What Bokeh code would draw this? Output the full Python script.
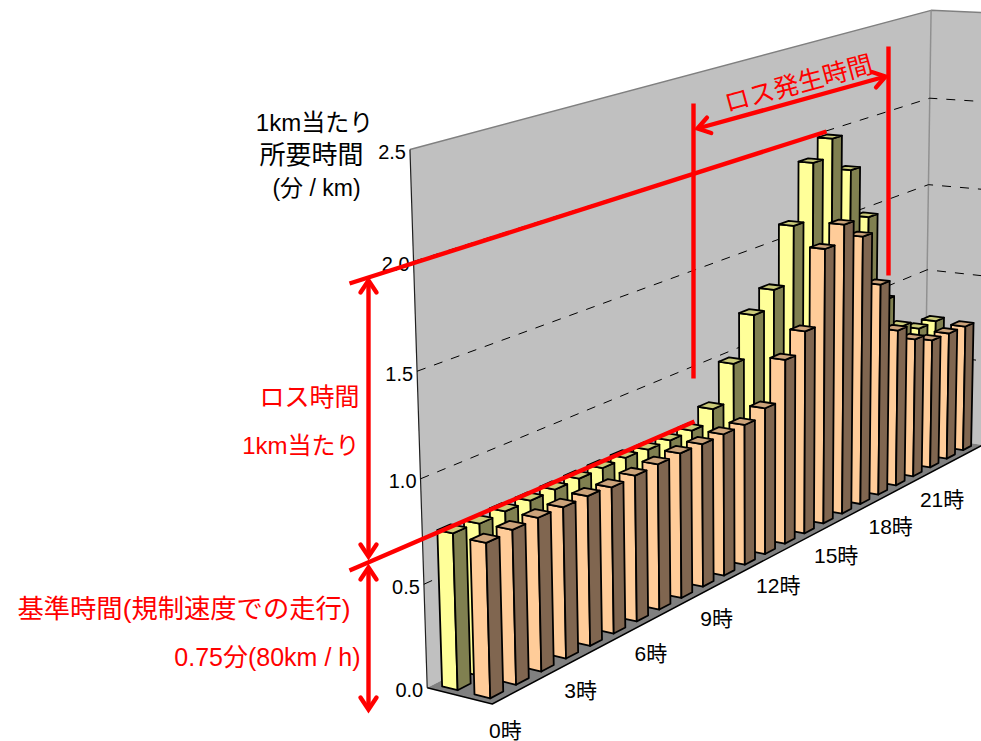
import numpy as np
from bokeh.core.properties import value
from bokeh.embed import file_html
from bokeh.models import ColumnDataSource
from bokeh.plotting import figure
from bokeh.resources import INLINE

# Minutes per km for each hour of the day, two day types
hours = list(range(24))
back_row = [0.752, 0.742, 0.746, 0.744, 0.745, 0.746, 0.747, 0.747, 0.738, 0.735, 0.736, 0.80,
            0.992, 1.206, 1.298, 1.60, 1.90, 1.996, 1.792, 1.498, 0.993, 0.799, 0.742, 0.742]
front_row = [0.739, 0.744, 0.746, 0.742, 0.742, 0.732, 0.737, 0.742, 0.746, 0.742, 0.743, 0.742,
             0.781, 0.99, 1.097, 1.494, 1.586, 1.483, 1.181, 0.883, 0.789, 0.739, 0.735, 0.732]
value_ticks = [0.0, 0.5, 1.0, 1.5, 2.0, 2.5]
hour_ticks = [0, 3, 6, 9, 12, 15, 18, 21]

# Camera of the 3D box: (hour, depth, value) paired with its place on the page
camera_pairs = [
    ((0, 0, 0), (492, 704)), ((0, 1, 0), (427, 687)), ((0, 1, 2.5), (409.5, 149)),
    ((24, 1, 2.5), (931, 10)), ((24, 1, 0), (924.5, 436)), ((24, 0, 0), (982, 444)),
    ((0, 1, 1.0), (419.5, 478)), ((24, 1, 1.0), (926, 269)),
    ((0.25, 0.13, 0), (490, 698)), ((12.25, 0.13, 0), (764, 553)), ((23.25, 0.13, 0), (963, 450)),
]


def fit_camera(pairs):
    rows = []
    for (u, v, w), (x, y) in pairs:
        X = np.array([u / 24, v, w / 2.5, 1.0])
        x, y = x / 1000, y / 1000
        rows.append(np.r_[X, np.zeros(4), -x * X])
        rows.append(np.r_[np.zeros(4), X, -y * X])
    return np.linalg.svd(np.array(rows))[2][-1].reshape(3, 4)


CAM = fit_camera(camera_pairs)


def project(u, v, w):
    h = CAM @ np.array([u / 24, v, w / 2.5, 1.0])
    return h[0] / h[2] * 1000, h[1] / h[2] * 1000


def path(points):
    xy = [project(*pt) for pt in points]
    return [a for a, _ in xy], [b for _, b in xy]


p = figure(width=981, height=741, x_range=(0, 981), y_range=(741, 0),
           x_axis_type=None, y_axis_type=None, toolbar_location=None,
           output_backend="svg", min_border=0, outline_line_color=None,
           background_fill_color="white", border_fill_color="white")

WALL, FLOOR = "#C0C0C0", "#808080"
xs, ys = zip(*[path(f) for f in [
    [(0, 1, 0), (0, 1, 2.5), (24, 1, 2.5), (24, 1, 0)],
    [(24, 1, 0), (24, 1, 2.5), (24, 0, 2.5), (24, 0, 0)],
    [(0, 0, 0), (0, 1, 0), (24, 1, 0), (24, 0, 0)],
]])
p.patches(list(xs), list(ys), fill_color=[WALL, WALL, FLOOR], line_color=None)

# Box edges
for pts, col, lw in [
    ([(0, 1, 2.5), (24, 1, 2.5), (24, 0, 2.5)], "#808080", 1.5),
    ([(24, 1, 0), (24, 1, 2.5)], "#909090", 1.5),
    ([(0, 1, 0), (0, 1, 2.5)], "#202020", 1.2),
    ([(0, 1, 0), (0, 0, 0), (24, 0, 0)], "#000000", 1.5),
]:
    a, b = path(pts)
    p.line(a, b, line_color=col, line_width=lw)

# Gridlines on both walls
for tick in value_ticks[1:-1]:
    a, b = path([(0, 1, tick), (24, 1, tick), (24, 0, tick)])
    p.line(a, b, line_color="black", line_width=1, line_dash="9 9")

# Bars, painted far to near
BAR_LO, BAR_HI = 0.25, 0.75
ROWS = [
    (back_row, 0.63, 0.87, "#FFFF99", "#808050", "#CCCC7A"),
    (front_row, 0.13, 0.37, "#FFCC99", "#806650", "#CCA37A"),
]
bx, by, bc = [], [], []
for vals, v0, v1, face, side, top in ROWS:
    for h in reversed(hours):
        w = vals[h]
        u0, u1 = h + BAR_LO, h + BAR_HI
        for pts, col in [
            ([(u0, v1, 0), (u0, v0, 0), (u0, v0, w), (u0, v1, w)], face),
            ([(u0, v0, 0), (u1, v0, 0), (u1, v0, w), (u0, v0, w)], side),
            ([(u0, v0, w), (u1, v0, w), (u1, v1, w), (u0, v1, w)], top),
        ]:
            a, b = path(pts)
            bx.append(a)
            by.append(b)
            bc.append(col)
bars = ColumnDataSource(dict(xs=bx, ys=by, color=bc))
p.patches("xs", "ys", source=bars, fill_color="color", line_color="black",
          line_width=1.8, line_join="round")

# Text
LATIN_CJK = value("Liberation Sans, Noto Sans CJK JP")


def label(x, y, s, size, color="black", align="center", angle=0):
    p.text([x], [y], text=[s], text_font=LATIN_CJK, text_font_size=f"{size}px",
           text_color=color, text_align=align, text_baseline="middle",
           angle=angle, angle_units="deg")


for t in value_ticks:
    x, y = project(0, 1, t)
    label(x - 4, y + 2.5, f"{t:.1f}", 20, align="right")
for h in hour_ticks:
    x, y = project(h + 0.5, 0, 0)
    label(x, y + 33, f"{h}時", 21)

label(314, 122, "1km当たり", 24)
label(311, 154, "所要時間", 26)
label(316, 187, "(分 / km)", 23)

RED = "#FF0000"
label(359, 396, "ロス時間", 25, RED, "right")
label(359, 445, "1km当たり", 24, RED, "right")
label(183.5, 608, "基準時間(規制速度での走行)", 26.3, RED)
label(360, 656, "0.75分(80km / h)", 25, RED, "right")
label(798, 83, "ロス発生時間", 25.4, RED, angle=15.2)

# Red callouts
callouts = [
    ((349, 283), (826, 131)),
    ((349, 570), (694, 421)),
    ((693, 103), (693, 378)),
    ((888, 46), (888, 275)),
]
arrows = [
    ((697, 128), (885, 76)),
    ((368, 280), (368, 556)),
    ((368, 567), (368, 709)),
]
p.multi_line([[a[0], b[0]] for a, b in callouts + arrows],
             [[a[1], b[1]] for a, b in callouts + arrows],
             line_color=RED, line_width=4.4)


def head(tip, tail, length=12, half=8):
    tip, tail = np.array(tip, float), np.array(tail, float)
    d = (tail - tip) / np.linalg.norm(tail - tip)
    n = np.array([-d[1], d[0]])
    l, r = tip + d * length + n * half, tip + d * length - n * half
    return [l[0], tip[0], r[0]], [l[1], tip[1], r[1]]


hx, hy = [], []
for a, b in arrows:
    for tip, tail in ((a, b), (b, a)):
        hxx, hyy = head(tip, tail)
        hx.append(hxx)
        hy.append(hyy)
p.multi_line(hx, hy, line_color=RED, line_width=4.4, line_join="miter", line_cap="round")

open("out.html", "w").write(file_html(p, INLINE))
